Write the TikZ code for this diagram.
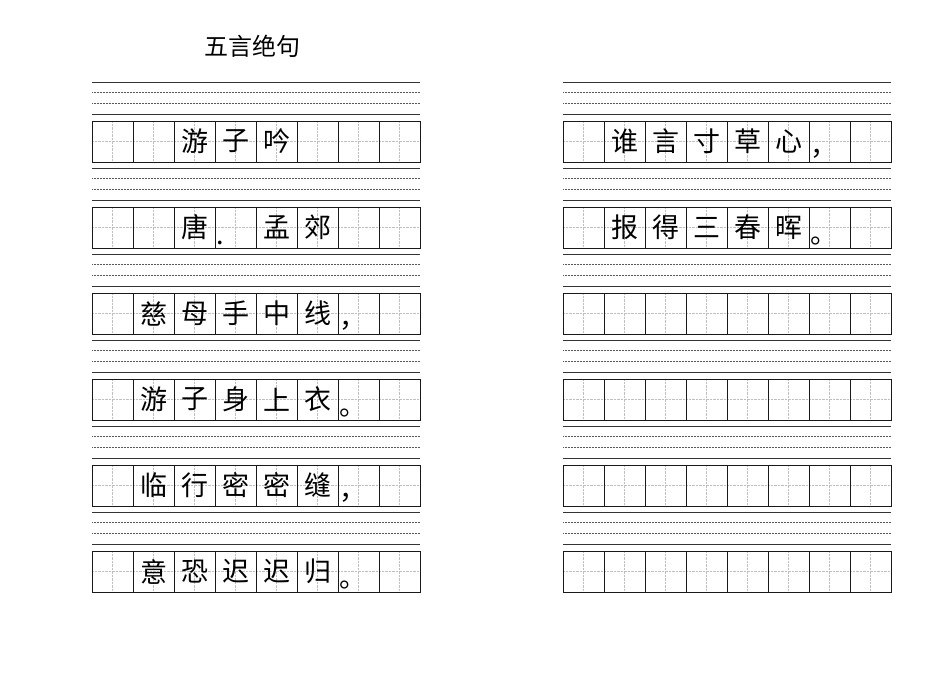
\documentclass[tikz,border=0pt]{standalone}
\usepackage{fontspec}
\newfontfamily\cjk{Noto Sans CJK SC}
\begin{document}
\begin{tikzpicture}[x=1pt,y=-1pt,
  band/.style={draw=black!80,line width=1pt},
  dots/.style={draw=black!65,densely dotted,line width=0.5pt},
  cell/.style={draw=black!90,line width=1pt},
  guide/.style={draw=black!25,densely dotted,line width=0.4pt},
  hanzi/.style={font=\cjk\fontsize{27}{27}\selectfont,inner sep=0pt}]
 \useasboundingbox (0,0) rectangle (950,672);
 \node [hanzi,font=\cjk\fontsize{24}{24}\selectfont] (title) at (252,46) {五言绝句};
 % writing grid, two columns of six rows
 \foreach \cx in {92,563} {
  \foreach \r in {0,...,5} {
   \pgfmathsetmacro{\ty}{82+86*\r}
   \draw [band] (\cx,\ty) -- ++(328,0);
   \draw [dots] (\cx,\ty+10.5) -- ++(328,0);
   \draw [dots] (\cx,\ty+21) -- ++(328,0);
   \draw [band] (\cx,\ty+32) -- ++(328,0);
   \foreach \c in {0,...,7} {
    \draw [guide] (\cx+41*\c+20.5,\ty+39) -- ++(0,41);
    \draw [guide] (\cx+41*\c,\ty+59.5) -- ++(41,0);
    \draw [cell] (\cx+41*\c,\ty+39) rectangle ++(41,41);
   }
  }
 }
 % poem text
 \foreach \cx/\r/\c/\t in {92/0/2/游,92/0/3/子,92/0/4/吟,
   92/1/2/唐,92/1/4/孟,92/1/5/郊,
   92/2/1/慈,92/2/2/母,92/2/3/手,92/2/4/中,92/2/5/线,
   92/3/1/游,92/3/2/子,92/3/3/身,92/3/4/上,92/3/5/衣,
   92/4/1/临,92/4/2/行,92/4/3/密,92/4/4/密,92/4/5/缝,
   92/5/1/意,92/5/2/恐,92/5/3/迟,92/5/4/迟,92/5/5/归,
   563/0/1/谁,563/0/2/言,563/0/3/寸,563/0/4/草,563/0/5/心,
   563/1/1/报,563/1/2/得,563/1/3/三,563/1/4/春,563/1/5/晖}
   \node [hanzi] (h-\cx-\r-\c) at (\cx+41*\c+20.5,82+86*\r+59.5) {\t};
 % punctuation
 \foreach \cx/\r/\c/\t in {92/1/3/.,92/2/6/，,92/3/6/。,92/4/6/，,92/5/6/。,
   563/0/6/，,563/1/6/。}
   \node [hanzi,anchor=south west] (p-\cx-\r-\c) at (\cx+41*\c+1,82+86*\r+77) {\t};
\end{tikzpicture}
\end{document}
